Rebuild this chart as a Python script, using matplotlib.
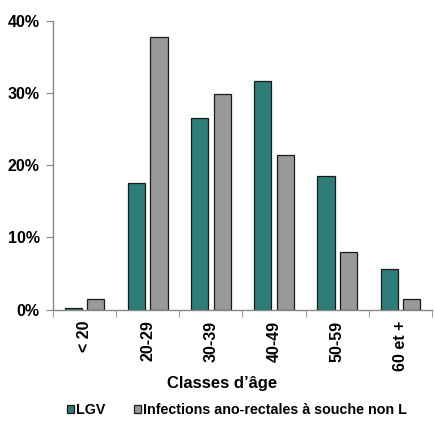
import numpy as np
import matplotlib
matplotlib.use('Agg')
import matplotlib.pyplot as plt
from matplotlib.ticker import FuncFormatter

# Données
categories = ['< 20', '20-29', '30-39', '40-49', '50-59', '60 et +']
lgv = [0.2, 17.5, 26.6, 31.7, 18.5, 5.6]
non_l = [1.5, 37.8, 29.9, 21.4, 8.0, 1.5]
series_names = ['LGV', 'Infections ano-rectales à souche non L']

plt.rcParams['font.family'] = ['Liberation Sans', 'DejaVu Sans']
plt.rcParams['font.weight'] = 'bold'

fig = plt.figure(figsize=(4.35, 4.36), dpi=100)
ax = fig.add_axes([53 / 435, 1 - 309.5 / 436, 379 / 435, (309.5 - 21) / 436])

x = np.arange(len(categories))
w = 0.27
ax.bar(x - 0.178, lgv, w, color='#2f7d79', edgecolor='#1a1a1a', linewidth=0.9, label=series_names[0])
ax.bar(x + 0.178, non_l, w, color='#999999', edgecolor='#1a1a1a', linewidth=0.9, label=series_names[1])

ax.set_xlim(-0.5, len(categories) - 0.5)
ax.set_ylim(0, 40)
ax.set_yticks([0, 10, 20, 30, 40])
ax.yaxis.set_major_formatter(FuncFormatter(lambda v, p: f'{v:.0f}%'))

for s in ['top', 'right']:
    ax.spines[s].set_visible(False)
for s in ['left', 'bottom']:
    ax.spines[s].set_color('#888888')
    ax.spines[s].set_linewidth(1)

ax.set_xticks(x)
ax.set_xticklabels(categories, rotation=90, fontsize=11.5, fontweight='bold')
ax.tick_params(axis='x', length=0, pad=8)
ax.set_xticks(np.arange(-0.5, len(categories), 1), minor=True)
ax.tick_params(axis='x', which='minor', length=5, color='#888888', direction='out')
ax.tick_params(axis='y', length=5, color='#888888', labelsize=11.5, pad=4.5)
for lab in ax.get_yticklabels():
    lab.set_fontweight('bold')

ax.set_xlabel("Classes d’âge", fontsize=12, fontweight='bold')
ax.xaxis.set_label_coords((222 - 53) / 379, -(383 - 309.5) / 288.5)
ax.xaxis.label.set_va('center')

fig.legend(loc='center', bbox_to_anchor=(0.545, 1 - 410 / 436), ncol=2, frameon=False,
           handlelength=0.5, handleheight=0.5, handletextpad=0.15,
           columnspacing=2.0, prop={'weight': 'bold', 'size': 10.3})

fig.savefig('out.png', dpi=100)
